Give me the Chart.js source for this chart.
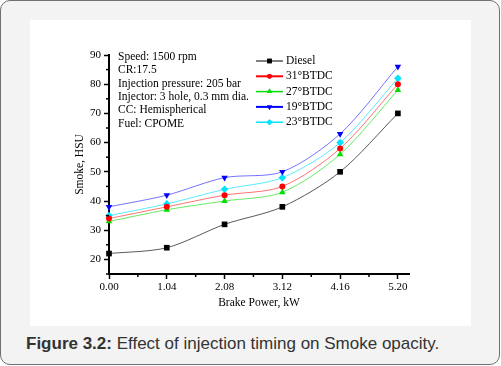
<!DOCTYPE html>
<html><head><meta charset="utf-8">
<script src="https://cdn.jsdelivr.net/npm/chart.js@4.4.1/dist/chart.umd.min.js"></script>
<style>
html,body{margin:0;padding:0;background:#fff;}
#frame{position:absolute;left:0;top:0;width:498px;height:363px;border:1px solid #707070;border-radius:10px;background:#f2f3f2;}
#panel{position:absolute;left:30px;top:20px;width:441px;height:306px;background:#fff;}
#cap{position:absolute;left:26px;top:335px;font:17px 'Liberation Sans',Arial,sans-serif;color:#333;line-height:17px;white-space:nowrap;}
</style></head>
<body>
<div id="frame"></div>
<div id="panel"><canvas id="c" width="441" height="306"></canvas></div>
<div id="cap"><b>Figure 3.2:</b> Effect of injection timing on Smoke opacity.</div>
<script>
const xValues = [0, 1.04, 2.08, 3.12, 4.16, 5.20];
const xTickLabels = ['0.00', '1.04', '2.08', '3.12', '4.16', '5.20'];
const yTicks = [20, 30, 40, 50, 60, 70, 80, 90];
const seriesNames = ['Diesel', '31\u00B0BTDC', '27\u00B0BTDC', '19\u00B0BTDC', '23\u00B0BTDC'];
const diesel = [22, 24, 32, 38, 50, 70];
const btdc31 = [34, 38, 42, 45, 58, 80];
const btdc27 = [33, 37, 40, 43, 56, 78];
const btdc19 = [38, 42, 48, 50, 63, 86];
const btdc23 = [35, 39, 44, 48, 60, 82];
const notes = ['Speed: 1500 rpm', 'CR:17.5', 'Injection pressure: 205 bar', 'Injector: 3 hole, 0.3 mm dia.', 'CC: Hemispherical', 'Fuel: CPOME'];
const xTitle = 'Brake Power, kW';
const yTitle = 'Smoke, HSU';

const seriesValues = [diesel, btdc31, btdc27, btdc19, btdc23];
const styles = [
  {solid:'#000000', line:'rgba(0,0,0,0.65)', shape:'rect', r:4, rot:0, lw:1},
  {solid:'#ff0000', line:'rgba(255,0,0,0.55)', shape:'circle', r:3, rot:0, lw:2},
  {solid:'#00e000', line:'rgba(0,220,0,0.6)', shape:'triangle', r:3.8, rot:0, lw:1.5},
  {solid:'#0000ff', line:'rgba(0,0,255,0.55)', shape:'triangle', r:3.8, rot:180, lw:2},
  {solid:'#00e5ff', line:'rgba(0,225,255,0.65)', shape:'rectRot', r:3.8, rot:0, lw:1.5}
];
const SERIF = "'Liberation Serif','Times New Roman',serif";

const datasets = seriesValues.map((vals, i) => ({
  label: seriesNames[i],
  data: vals.map((v, j) => ({x: xValues[j], y: v})),
  borderColor: styles[i].line,
  borderWidth: 1,
  backgroundColor: styles[i].solid,
  pointBackgroundColor: styles[i].solid,
  pointBorderColor: styles[i].solid,
  pointBorderWidth: 0,
  pointStyle: styles[i].shape,
  pointRadius: styles[i].r,
  pointRotation: styles[i].rot,
  tension: 0.3,
  clip: false
}));

const extras = {
  id: 'extras',
  afterDraw(chart) {
    const ctx = chart.ctx, ca = chart.chartArea;
    const xs = chart.scales.x, ys = chart.scales.y;
    ctx.save();
    ctx.strokeStyle = '#000'; ctx.lineWidth = 1.5;
    for (let i = 0; i < xValues.length; i++) {
      const m = i < xValues.length - 1 ? (xValues[i] + xValues[i+1]) / 2 : xValues[i] + (xValues[i] - xValues[i-1]) / 2;
      if (m > xs.max) continue;
      const px = xs.getPixelForValue(m);
      ctx.beginPath(); ctx.moveTo(px, ca.bottom); ctx.lineTo(px, ca.bottom + 3); ctx.stroke();
    }
    const yMinor = [ys.min].concat(yTicks.slice(0, -1).map((v, i) => (v + yTicks[i+1]) / 2));
    yMinor.forEach(v => {
      const py = ys.getPixelForValue(v);
      ctx.beginPath(); ctx.moveTo(ca.left, py); ctx.lineTo(ca.left - 3, py); ctx.stroke();
    });
    ctx.fillStyle = '#000';
    ctx.font = '11.5px ' + SERIF;
    ctx.textAlign = 'center'; ctx.textBaseline = 'middle';
    ctx.fillText(xTitle, (ca.left + ca.right) / 2, ca.bottom + 29);
    ctx.save();
    ctx.translate(ca.left - 29, (ca.top + ca.bottom) / 2);
    ctx.rotate(-Math.PI / 2);
    ctx.fillText(yTitle, 0, 0);
    ctx.restore();
    ctx.textAlign = 'left';
    notes.forEach((t, i) => ctx.fillText(t, ca.left + 9, ca.top + 2 + i * 13.3));
    seriesNames.forEach((n, i) => {
      const y = ca.top + 6 + i * 15.3;
      const x0 = ca.left + 147, x1 = ca.left + 174;
      ctx.strokeStyle = styles[i].solid; ctx.lineWidth = styles[i].lw;
      ctx.beginPath(); ctx.moveTo(x0, y); ctx.lineTo(x1, y); ctx.stroke();
      ctx.fillStyle = styles[i].solid;
      Chart.helpers.drawPoint(ctx, {pointStyle: styles[i].shape, radius: styles[i].r * 0.8, rotation: styles[i].rot, borderWidth: 0}, (x0 + x1) / 2, y);
      ctx.fill();
      ctx.fillStyle = '#000';
      ctx.fillText(n, x1 + 3, y);
    });
    ctx.restore();
  }
};

new Chart(document.getElementById('c'), {
  type: 'line',
  data: {datasets},
  options: {
    responsive: false,
    animation: false,
    devicePixelRatio: 1,
    layout: {padding: {left: 0, right: 62, top: 35, bottom: 0}},
    plugins: {legend: {display: false}, tooltip: {enabled: false}},
    scales: {
      x: {
        type: 'linear', min: 0, max: 5.4,
        afterBuildTicks: s => { s.ticks = xValues.map(v => ({value: v})); },
        afterFit: s => { s.height = 52; },
        ticks: {
          autoSkip: false, maxRotation: 0, padding: 2, color: '#000',
          font: {family: SERIF, size: 11},
          callback: (v) => { const i = xValues.indexOf(v); return i >= 0 ? xTickLabels[i] : ''; }
        },
        grid: {display: true, drawOnChartArea: false, drawTicks: true, tickLength: 5, tickWidth: 1.5, tickColor: '#000'},
        border: {display: true, color: '#000', width: 2}
      },
      y: {
        type: 'linear', min: 15, max: 90,
        afterBuildTicks: s => { s.ticks = yTicks.map(v => ({value: v})); },
        afterFit: s => { s.width = 79; },
        ticks: {padding: 3, color: '#000', font: {family: SERIF, size: 11}},
        grid: {display: true, drawOnChartArea: false, drawTicks: true, tickLength: 5, tickWidth: 1.5, tickColor: '#000'},
        border: {display: true, color: '#000', width: 2}
      }
    }
  },
  plugins: [extras]
});
</script>
</body></html>
